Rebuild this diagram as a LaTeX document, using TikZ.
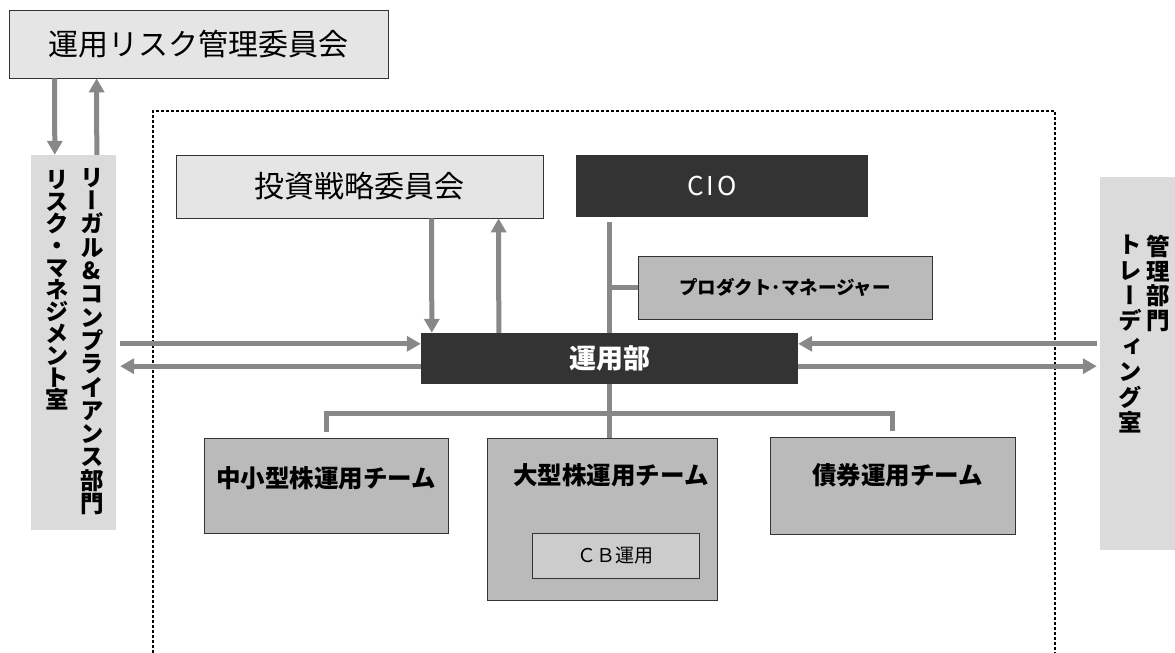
\documentclass[tikz,border=0pt]{standalone}
\usepackage{fontspec}
\newfontfamily\jpfont{Noto Sans CJK JP}
\newfontfamily\tatefont[RawFeature=+vert]{Noto Sans CJK JP}
\usetikzlibrary{arrows.meta, positioning, calc}
\definecolor{linegray}{HTML}{888888}
\setlength{\lineskiplimit}{-40pt}
\tikzset{
    lightbox/.style={
        draw=black!80,
        fill=black!10,
        line width=0.8pt,
        inner sep=0pt,
        font=\jpfont\fontsize{30}{36}\selectfont,
    },
    darkbox/.style={
        fill=black!80,
        text=white,
        inner sep=0pt,
    },
    teambox/.style={
        draw=black!80,
        fill=black!27,
        line width=0.8pt,
        inner sep=0pt,
    },
    sidebox/.style={
        fill=black!14,
        inner sep=0pt,
    },
    tate/.style={
        align=center,
        inner sep=0pt,
        anchor=north,
        font=\tatefont\bfseries\fontsize{23.5pt}{#1pt}\selectfont,
    },
    teamtext/.style={
        inner sep=0pt,
        font=\jpfont\bfseries\fontsize{24.5}{30}\selectfont,
    },
    link/.style={draw=linegray, line width=5pt},
    flow/.style={link, -{Triangle[width=15pt,length=14pt]}},
}
\begin{document}
\begin{tikzpicture}[x=1pt, y=-1pt]
  \useasboundingbox (0,0) rectangle (1175,653);

  % outer dotted frame (open at the bottom)
  \draw[line width=2.6pt, dash pattern=on 2.6pt off 2.4pt] (153,653) |- (1055,111) -- (1055,653);

  \node [lightbox, minimum width=379pt, minimum height=68pt] (riskcomm) at (198.5,44) {運用リスク管理委員会};
  \node [sidebox, minimum width=85pt, minimum height=375pt] (leftbox) at (73.5,342.5) {};
  \node [sidebox, minimum width=75pt, minimum height=373pt] (rightbox) at (1137.5,363.5) {};

  \node [tate=23.3] (legal) at (92,168) {リ\\ー\\ガ\\ル\\{\&}\\コ\\ン\\プ\\ラ\\イ\\ア\\ン\\ス\\部\\門};
  \node [tate=22] (riskmgmt) at (57,170) {リ\\ス\\ク\\・\\マ\\ネ\\ジ\\メ\\ン\\ト\\室};
  \node [tate=24.6] (admin) at (1158,235) {管\\理\\部\\門};
  \node [tate=25.4] (trading) at (1130,235) {ト\\レ\\ー\\デ\\ィ\\ン\\グ\\室};

  \node [lightbox, minimum width=367pt, minimum height=63pt] (strat) at (359.5,186.5) {投資戦略委員会};
  \node [darkbox, minimum width=292pt, minimum height=62pt, font=\jpfont\fontsize{26}{30}\selectfont] (cio) at (722,186) {\hspace*{-20pt}C\hspace{3pt}I\hspace{3pt}O};
  \node [teambox, minimum width=294pt, minimum height=63pt, font=\jpfont\bfseries\fontsize{18.5}{22}\selectfont] (pm) at (785,287.5) {プロダクト･マネージャー};
  \node [darkbox, minimum width=377pt, minimum height=51pt, font=\jpfont\bfseries\fontsize{27}{32}\selectfont] (opsdept) at (609.5,358.5) {運用部};

  \node [teambox, minimum width=244pt, minimum height=95pt] (smallteam) at (326,485.5) {};
  \node [teambox, minimum width=230pt, minimum height=162pt] (bigteam) at (602,519) {};
  \node [teambox, minimum width=245pt, minimum height=97pt] (bondteam) at (892.5,485.5) {};
  \node [teamtext] (smalltext) at ($(smallteam.north)+(0,41)$) {中小型株運用チーム};
  \node [teamtext] (bigtext) at ($(bigteam.north)+(9,38)$) {大型株運用チーム};
  \node [teamtext] (bondtext) at ($(bondteam.north)+(5,39)$) {債券運用チーム};
  \node [draw=black!80, fill=black!20, line width=0.8pt, minimum width=167pt, minimum height=45pt,
         font=\jpfont\fontsize{19}{23}\selectfont] (cb) at (615.5,555.5) {ＣＢ運用};

  % risk committee <-> left box
  \draw[flow] ($(riskcomm.south west)+(46,0)$) -- ($(leftbox.north west)+(24,0)$);
  \draw[flow] ($(leftbox.north west)+(66,0)$) -- ($(riskcomm.south west)+(88,0)$);

  % strategy committee <-> ops
  \draw[flow] ($(strat.south west)+(256,0)$) -- ($(opsdept.north west)+(11,0)$);
  \draw[flow] ($(opsdept.north west)+(78,0)$) -- ($(strat.south west)+(323,0)$);

  % side boxes <-> ops
  \coordinate (upper) at ($(opsdept.north)+(0,11)$);
  \coordinate (lower) at ($(opsdept.south)+(0,-18)$);
  \draw[flow] ($(leftbox.east |- upper)+(4,0)$) -- (opsdept.west |- upper);
  \draw[flow] (opsdept.west |- lower) -- ($(leftbox.east |- lower)+(4,0)$);
  \draw[flow] ($(rightbox.west |- upper)+(-3,0)$) -- (opsdept.east |- upper);
  \draw[flow] (opsdept.east |- lower) -- ($(rightbox.west |- lower)+(-3,0)$);

  % tree lines
  \coordinate (trunk) at ($(cio.south west)+(34,5)$);
  \draw[link] (trunk) -- (trunk |- opsdept.north);
  \draw[link] (trunk |- pm.west) -- (pm.west);
  \draw[link] (trunk |- opsdept.south) -- (trunk |- bigteam.north);
  \coordinate (bar) at ($(opsdept.south)+(0,29)$);
  \draw[link] ($(smallteam.north)+(0,-6)$) |- (bar) -| ($(bondteam.north)+(0,-6)$);
\end{tikzpicture}
\end{document}
